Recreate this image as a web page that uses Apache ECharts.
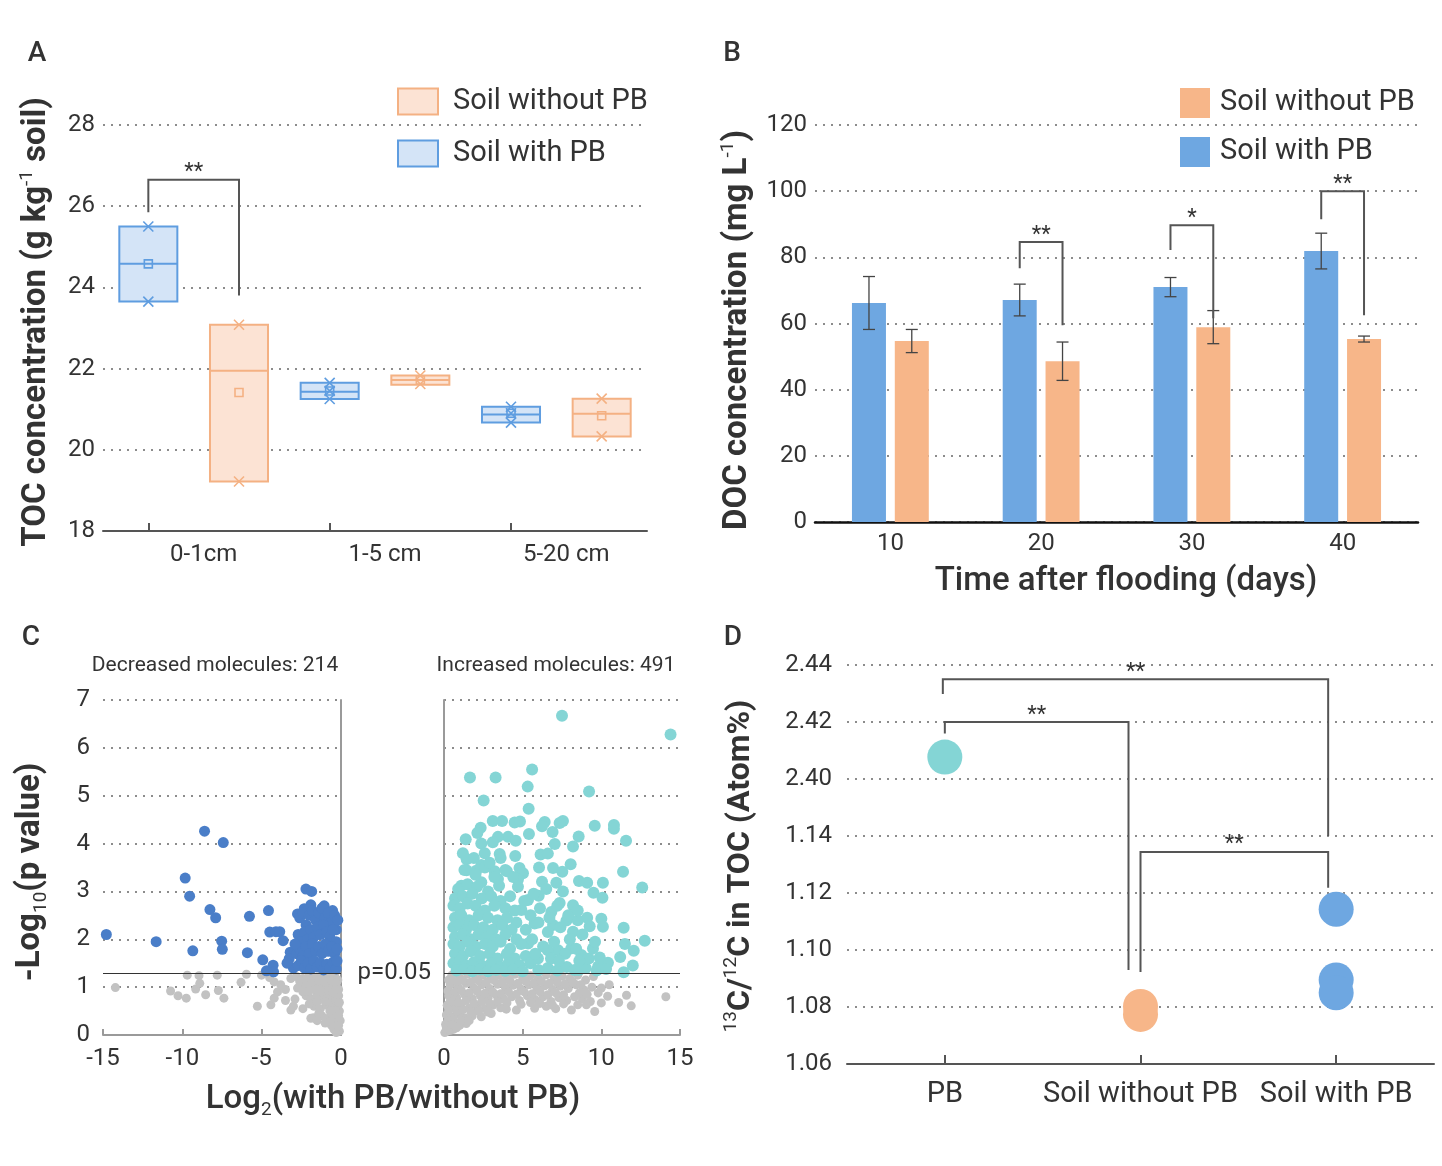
<!DOCTYPE html>
<html><head><meta charset="utf-8">
<script src="https://cdn.jsdelivr.net/npm/echarts@6/dist/echarts.min.js"></script>
<style>html,body{margin:0;padding:0;background:#fff}#c{width:1442px;height:1166px}</style>
</head><body><div id="c"></div>
<script>
// ---------- Panel A data ----------
const aGroups = ['0-1cm', '1-5 cm', '5-20 cm'];
const aYTicks = [18, 28, 2];
const aWithLow = [23.65, 21.25, 20.67];
const aWithHigh = [25.5, 21.65, 21.06];
const aWithMedian = [24.58, 21.43, 20.87];
const aWithMean = [24.58, 21.45, 20.9];
const aWithMarks = [[25.5, 23.65], [21.65, 21.45, 21.25], [21.06, 20.9, 20.67]];
const aWithoutLow = [19.22, 21.6, 20.33];
const aWithoutHigh = [23.08, 21.83, 21.26];
const aWithoutMedian = [21.95, 21.72, 20.89];
const aWithoutMean = [21.41, 21.72, 20.84];
const aWithoutMarks = [[23.08, 19.22], [21.83, 21.62], [21.26, 20.33]];
const aBrackets = [[0, 25.85, 1, 23.8, 26.65]];
const aStars = ['**'];

// ---------- Panel B data ----------
const bDays = ['10', '20', '30', '40'];
const bWith = [66.2, 67.1, 71.0, 81.9];
const bWithErr = [8.0, 4.8, 2.9, 5.4];
const bWithout = [54.7, 48.6, 58.9, 55.3];
const bWithoutErr = [3.5, 5.8, 5.0, 0.9];
const bBrackets = [[1, 76.7, 1, 59.5, 84.6], [2, 82.2, 2, 61.6, 89.7], [3, 91.5, 3, 62.5, 100]];
const bStars = ['**', '*', '**'];

// ---------- Panel C data ----------
const cPValue = 0.05;
const cBlue = [
 [-8.6,4.26],[-7.42,4.02],[-9.82,3.28],[-9.54,2.9],[-8.26,2.62],[-7.9,2.45],[-5.77,2.48],[-4.57,2.6],
 [-14.79,2.1],[-11.65,1.95],[-9.34,1.76],[-7.52,1.96],[-7.48,1.79],[-5.9,1.72],[-4.49,2.15],[-4.1,2.16],
 [-3.86,2.16],[-3.65,1.97],[-4.93,1.57],[-4.28,1.46],[-4.7,1.34],[-4.25,1.32],[-3.2,1.73],[-3.27,1.59],
 [-2.21,3.05],[-1.85,3.0],[-1.9,2.72],[-2.74,2.53],[-2.32,2.64],[-1.06,2.7],[-0.53,2.6],[-3.0,1.4],
 [-2.6,2.45],[-2.4,2.55],[-2.2,2.3],[-2.0,2.5],[-1.8,2.6],[-1.6,2.4],[-1.4,2.55],[-1.2,2.65],[-1.0,2.45],
 [-0.8,2.55],[-0.6,2.35],[-0.4,2.5],[-0.3,2.2],
 [-2.7,2.1],[-2.5,1.95],[-2.3,2.15],[-2.1,2.0],[-1.9,2.2],[-1.7,2.05],[-1.5,2.25],[-1.3,2.1],[-1.1,2.3],
 [-0.9,2.15],[-0.7,2.05],[-0.5,2.2],[-0.3,1.95],
 [-2.8,1.7],[-2.6,1.8],[-2.4,1.65],[-2.2,1.85],[-2.0,1.7],[-1.8,1.9],[-1.6,1.75],[-1.4,1.85],[-1.2,1.7],
 [-1.0,1.9],[-0.8,1.75],[-0.6,1.85],[-0.4,1.7],[-0.25,1.8],
 [-2.7,1.45],[-2.5,1.55],[-2.3,1.4],[-2.1,1.5],[-1.9,1.38],[-1.7,1.55],[-1.5,1.42],[-1.3,1.5],[-1.1,1.36],
 [-0.9,1.48],[-0.7,1.4],[-0.5,1.52],[-0.3,1.38],[-3.4,1.5],[-2.9,1.9],[-0.2,2.4],[-0.25,1.55]
];
const cTeal = [
 [7.5,6.67],[14.4,6.28],[1.65,5.38],[3.28,5.38],[5.6,5.55],[5.32,5.19],[9.22,5.09],[2.52,4.9],[5.38,4.73],
 [3.1,4.47],[3.69,4.47],[4.49,4.44],[4.83,4.46],[6.4,4.45],[7.56,4.47],[7.35,4.43],[9.58,4.37],[10.8,4.39],
 [10.8,4.31],[6.23,4.36],[2.33,4.33],[2.12,4.22],[1.38,4.09],[6.9,4.24],[5.4,4.2],[8.56,4.15],[11.57,4.06],
 [7.04,3.99],[8.2,3.94],[4.07,4.14],[4.56,4.06],[3.43,4.14],[3.1,4.03],[2.37,4.0],[2.59,3.8],[3.54,3.78],
 [4.53,3.74],[6.14,3.77],[6.6,3.79],[1.44,3.67],[2.37,3.55],[1.44,3.44],[2.05,3.43],[3.22,3.42],[4.0,3.42],
 [4.8,3.49],[5.02,3.38],[6.04,3.5],[6.93,3.49],[7.52,3.41],[8.05,3.57],[11.38,3.41],[3.43,3.26],[4.7,3.25],
 [6.23,3.2],[7.14,3.18],[8.58,3.22],[9.1,3.18],[10.1,3.18],[12.6,3.08],[1.1,3.12],[2.37,3.19],
 [9.5,2.97],[10.07,2.87],[8.2,2.71],[7.35,2.76],[6.82,2.57],[6.02,2.91],[7.56,3.0],[10.0,2.43],[10.1,2.26],
 [9.26,2.27],[8.5,2.4],[7.78,2.39],[6.93,2.3],[8.2,2.16],[11.42,2.24],[12.76,1.97],[11.5,1.9],[12.06,1.76],
 [12.0,1.45],[11.42,1.31],[10.42,1.51],[9.47,1.81],[8.73,1.67],[8.09,1.81],[7.25,1.77],[6.6,1.77],[5.97,1.6],
 [8.56,1.36],[9.8,1.43],[5.34,1.91],[5.76,2.33],[5.34,2.82],[4.92,2.61],[11.2,1.63],
 [0.9,3.05],[1.5,3.15],[2.1,3.1],[2.8,3.0],[3.5,3.12],
 [0.7,2.85],[1.2,2.9],[1.8,2.95],[2.4,2.85],[3.0,2.9],[3.6,2.8],[4.2,2.9],
 [0.6,2.7],[1.0,2.65],[1.5,2.75],[2.0,2.7],[2.6,2.6],[3.2,2.7],[3.9,2.65],[4.5,2.6],
 [0.7,2.45],[1.1,2.5],[1.6,2.4],[2.2,2.5],[2.8,2.45],[3.4,2.4],[4.0,2.45],[4.6,2.35],
 [0.6,2.25],[1.0,2.3],[1.4,2.2],[1.9,2.3],[2.5,2.25],[3.1,2.2],[3.7,2.3],[4.3,2.2],
 [0.7,2.05],[1.2,2.1],[1.7,2.0],[2.2,2.1],[2.7,2.05],[3.3,2.0],[3.9,2.1],[4.6,2.0],
 [0.6,1.9],[1.0,1.85],[1.5,1.95],[2.0,1.85],[2.6,1.9],[3.1,1.85],[3.6,1.95],[4.2,1.8],[4.9,1.9],
 [0.7,1.7],[1.2,1.65],[1.7,1.75],[2.3,1.65],[2.9,1.7],[3.4,1.6],[4.0,1.7],[4.5,1.6],[5.2,1.65],
 [0.6,1.5],[1.0,1.55],[1.4,1.45],[1.9,1.52],[2.4,1.45],[3.0,1.5],[3.6,1.42],[4.1,1.5],[4.8,1.45],[5.5,1.5],
 [0.8,1.35],[1.3,1.38],[1.8,1.33],[2.3,1.37],[2.8,1.33],[3.3,1.36],[3.9,1.34],[4.4,1.37],[5.0,1.33],
 [6.0,1.36],[6.6,1.4],[7.2,1.35],[7.8,1.42],[8.3,1.36],[9.0,1.4],[9.7,1.35],[10.3,1.38],
 [5.2,2.2],[5.6,2.0],[6.0,2.35],[6.3,1.85],[6.6,2.15],[7.0,1.95],[7.4,2.25],[7.7,1.7],[8.0,2.0],[8.4,1.8],
 [8.8,2.1],[9.2,1.6],[9.6,1.95],[6.8,1.6],[5.8,1.7],[7.3,1.55],[8.6,1.55],[9.9,1.62],[5.5,2.5],[6.1,2.65],
 [6.7,2.45],[7.2,2.7],[7.9,2.5],[8.5,2.6],[9.1,2.45],[5.1,2.8],[5.7,2.95],[6.5,3.05],[4.7,3.1],[4.4,3.3],
 [3.9,3.45],[1.3,3.45],[2.0,3.35],[2.6,3.5],[3.2,3.3],[1.9,3.7],[2.9,3.6],[1.2,3.8],[3.6,3.7]
];
const cGrayLeft = [
 [-14.22,0.99],[-10.74,0.92],[-10.27,0.82],[-9.75,0.77],[-9.69,1.25],[-9.16,0.96],[-8.95,1.24],[-8.9,1.08],
 [-8.53,0.84],[-7.8,1.25],[-7.73,0.93],[-7.38,0.77],[-5.96,1.27],[-5.01,1.25],[-5.27,0.6],[-4.42,0.63],
 [-4.21,1.11],[-4.21,0.77],[-4.0,0.9],[-3.5,0.95],[-3.16,1.18],[-3.16,0.52],[-2.9,0.75],[-2.74,0.98],
 [-2.8,1.22],[-2.4,1.18],[-2.0,1.25],[-1.6,1.2],[-1.2,1.26],[-0.8,1.2],[-0.4,1.24],[-0.2,1.15],
 [-2.6,1.0],[-2.2,1.05],[-1.8,0.98],[-1.4,1.04],[-1.0,0.97],[-0.6,1.05],[-0.3,0.95],
 [-2.4,0.55],[-2.2,0.82],[-1.9,0.76],[-1.5,0.85],[-1.1,0.78],[-0.7,0.84],[-0.4,0.75],[-0.15,0.82],
 [-1.9,0.35],[-1.7,0.6],[-1.3,0.55],[-0.9,0.62],[-0.5,0.56],[-0.2,0.6],
 [-1.2,0.4],[-0.8,0.35],[-0.5,0.42],[-0.25,0.3],[-1.73,0.36],
 [-0.6,0.2],[-0.3,0.15],[-0.1,0.08],[-0.45,0.12],[-0.05,0.3],[-0.1,0.5],[-1.0,0.25],[-1.5,0.3],
 [-2.6,1.12],[-2.2,1.15],[-1.8,1.12],[-1.4,1.14],[-1.0,1.1],[-0.6,1.13],[-0.3,1.08],
 [-2.4,0.9],[-2.0,0.92],[-1.6,0.95],[-1.2,0.9],[-0.8,0.93],[-0.5,0.88],[-0.15,0.95],
 [-2.0,0.65],[-1.5,0.7],[-1.0,0.7],[-0.6,0.68],[-0.3,0.72],[-0.1,0.68],
 [-1.4,0.45],[-0.7,0.5],[-0.35,0.5],[-0.15,0.4],[-0.7,0.28],[-0.15,0.2],[-0.3,0.05],
 [-4.5,1.2],[-3.8,1.05],[-3.5,0.72],[-3.0,0.6],[-6.3,1.1]
];
const cGrayRight = [
 [0.5,1.25],[1.0,1.2],[1.5,1.27],[2.0,1.22],[2.5,1.26],[3.0,1.2],[3.5,1.25],[4.0,1.22],[4.5,1.27],[5.0,1.2],
 [5.5,1.24],[6.0,1.18],[6.5,1.26],[7.0,1.2],[7.5,1.23],[8.0,1.18],[8.5,1.25],[9.0,1.15],[9.5,1.22],
 [0.4,1.05],[0.9,1.0],[1.4,1.08],[1.9,0.98],[2.4,1.05],[2.9,0.97],[3.4,1.06],[3.9,0.99],[4.4,1.04],[4.9,0.96],
 [5.4,1.05],[5.9,0.98],[6.4,1.03],[6.9,0.95],[7.4,1.02],[7.9,0.97],[8.4,1.05],[8.9,0.94],[9.4,1.0],[10.0,0.98],[10.5,1.05],
 [0.3,0.82],[0.8,0.78],[1.3,0.85],[1.8,0.76],[2.3,0.83],[2.8,0.77],[3.3,0.84],[3.8,0.75],[4.3,0.8],[4.8,0.72],
 [5.3,0.82],[5.8,0.74],[6.3,0.8],[6.8,0.7],[7.3,0.78],[7.8,0.72],[8.3,0.8],[8.8,0.75],[9.3,0.7],[10.4,0.81],
 [11.6,0.83],[14.1,0.8],
 [0.2,0.62],[0.6,0.58],[1.1,0.64],[1.6,0.56],[2.1,0.6],[2.6,0.55],[3.1,0.62],[3.6,0.57],[4.6,0.52],[5.76,0.56],
 [6.5,0.6],[7.1,0.55],[8.1,0.52],[9.58,0.49],[10.0,0.67],[11.1,0.68],[11.9,0.61],[3.96,0.54],[9.05,0.63],
 [0.15,0.42],[0.5,0.38],[0.9,0.44],[1.3,0.36],[1.8,0.4],[2.37,0.38],[3.0,0.45],
 [0.1,0.22],[0.35,0.18],[0.7,0.25],[1.0,0.2],[1.42,0.24],
 [0.05,0.05],[0.2,0.08],[0.4,0.1],[0.6,0.12],
 [0.3,1.15],[0.8,1.12],[1.2,1.14],[1.7,1.1],[2.2,1.13],[2.7,1.1],[3.2,1.14],[3.7,1.1],[4.2,1.13],[4.7,1.08],
 [5.2,1.12],[5.7,1.08],[6.2,1.12],[6.7,1.08],[7.2,1.1],[7.7,1.07],[8.2,1.1],[8.7,1.05],
 [0.25,0.92],[0.7,0.9],[1.1,0.93],[1.6,0.88],[2.1,0.92],[2.6,0.87],[3.1,0.9],[3.6,0.86],[4.1,0.9],[4.6,0.85],
 [5.1,0.9],[5.6,0.86],[6.1,0.9],[6.6,0.84],[7.1,0.88],[7.6,0.84],[8.6,0.88],[9.1,0.85],[9.8,0.88],
 [0.4,0.7],[0.9,0.68],[1.4,0.72],[1.9,0.66],[2.4,0.7],[2.9,0.66],[3.4,0.7],[4.0,0.67],[4.9,0.64],[5.5,0.68],
 [6.1,0.66],[6.9,0.62],[7.6,0.65],[8.5,0.63],
 [0.3,0.52],[0.8,0.5],[1.2,0.53],[1.7,0.48],[2.2,0.5],[2.8,0.48],[0.6,0.32],[1.1,0.3],[1.6,0.3],[0.25,0.3],
 [0.15,0.15],[0.5,0.22],[0.8,0.15]
];

// ---------- Panel D data ----------
const dGroups = ['PB', 'Soil without PB', 'Soil with PB'];
const dTicks = [1.06, 1.08, 1.10, 1.12, 1.14, 2.40, 2.42, 2.44];
const dPB = [2.4077];
const dWithout = [1.0802, 1.0774];
const dWith = [1.1143, 1.0895, 1.0850];
const dBrackets = [[0, 2.4298, 2, 1.140, 2.435], [0, 2.416, 1, 1.093, 2.42], [1, 1.0923, 2, 1.1218, 1.1344]];
const dStars = ['**', '**', '**'];

// ---------- styles / layout ----------
const FONT = 'Roboto';
const TXT = '#333333';
const DOT = {type: [2, 6], width: 2, color: '#8c8c8c'};
const A_BLUE = '#5f9de0', A_BLUE_FILL = '#d4e4f7', A_OR = '#f4b183', A_OR_FILL = '#fce3d4';
const B_BLUE = '#6ea7e1', B_OR = '#f7b689';
const C_BLUE = '#4a7ec8', C_TEAL = '#84d5d5', C_GRAY = '#c2c2c2';
const B_DX = 21.4;
const bBracketDx = [[-B_DX, B_DX], [-B_DX, B_DX], [-B_DX, B_DX]];
const dBracketDx = [[-2, -8], [0, -12], [0, -8]];

function brk(v) {
  for (let i = 0; i < dTicks.length - 1; i++) {
    if (v <= dTicks[i + 1] || i === dTicks.length - 2) return i + (v - dTicks[i]) / (dTicks[i + 1] - dTicks[i]);
  }
}

function boxRender(stroke, fill, marks) {
  return function (params, api) {
    const s = api.value(0);
    const lo = api.coord([s, api.value(1)]);
    const hi = api.coord([s, api.value(2)]);
    const md = api.coord([s, api.value(3)]);
    const mn = api.coord([s, api.value(4)]);
    const w = api.size([1, 0])[0] * 0.64;
    const cx = lo[0];
    const kids = [
      {type: 'rect', shape: {x: cx - w / 2, y: hi[1], width: w, height: lo[1] - hi[1]}, style: {fill: fill, stroke: stroke, lineWidth: 2}},
      {type: 'line', shape: {x1: cx - w / 2, y1: md[1], x2: cx + w / 2, y2: md[1]}, style: {stroke: stroke, lineWidth: 2}},
      {type: 'rect', shape: {x: cx - 4, y: mn[1] - 4, width: 8, height: 8}, style: {fill: 'none', stroke: stroke, lineWidth: 1.6}}
    ];
    marks[params.dataIndex].forEach(function (v) {
      const p = api.coord([s, v]);
      kids.push({type: 'line', shape: {x1: cx - 5, y1: p[1] - 5, x2: cx + 5, y2: p[1] + 5}, style: {stroke: stroke, lineWidth: 1.6}});
      kids.push({type: 'line', shape: {x1: cx - 5, y1: p[1] + 5, x2: cx + 5, y2: p[1] - 5}, style: {stroke: stroke, lineWidth: 1.6}});
    });
    return {type: 'group', children: kids};
  };
}

function errRender(dx) {
  return function (params, api) {
    const c = api.value(0), m = api.value(1), e = api.value(2);
    const t = api.coord([c, m + e]), b = api.coord([c, m - e]);
    const x = t[0] + dx;
    const st = {stroke: '#444', lineWidth: 1.3};
    return {type: 'group', children: [
      {type: 'line', shape: {x1: x, y1: t[1], x2: x, y2: b[1]}, style: st},
      {type: 'line', shape: {x1: x - 6, y1: t[1], x2: x + 6, y2: t[1]}, style: st},
      {type: 'line', shape: {x1: x - 6, y1: b[1], x2: x + 6, y2: b[1]}, style: st}
    ]};
  };
}

function bracketRender(texts, dxs) {
  return function (params, api) {
    const i = params.dataIndex;
    const d = dxs ? dxs[i] : [0, 0];
    const a = api.coord([api.value(0), api.value(1)]);
    const t = api.coord([api.value(0), api.value(4)]);
    const b = api.coord([api.value(2), api.value(3)]);
    const x1 = a[0] + d[0], x2 = b[0] + d[1], yt = t[1];
    return {type: 'group', children: [
      {type: 'polyline', shape: {points: [[x1, a[1]], [x1, yt], [x2, yt], [x2, b[1]]]}, style: {stroke: '#555', lineWidth: 2, fill: null}},
      {type: 'text', x: (x1 + x2) / 2, y: yt - 7, style: {text: texts[i], fill: TXT, fontSize: 22, fontFamily: FONT, align: 'center', verticalAlign: 'middle'}}
    ]};
  };
}

const aSlots = [];
aGroups.forEach(function (g) { aSlots.push(g + ' with'); aSlots.push(g + ' without'); });

const labelStyle = {fontSize: 24, color: TXT, fontFamily: FONT};
const noLine = {show: false};

const supRich = {sup: {fontSize: 19, fontWeight: 'normal', fontFamily: FONT, fill: TXT, verticalAlign: 'top', lineHeight: 20}};
const subRich = {sub: {fontSize: 19, fontWeight: 'normal', fontFamily: FONT, fill: TXT, verticalAlign: 'bottom', lineHeight: 20}};

function gText(x, y, text, size, weight, rot, rich) {
  const el = {type: 'text', x: x, y: y, style: {text: text, fontSize: size, fontWeight: weight, fontFamily: FONT, fill: TXT, align: 'center', verticalAlign: 'middle', lineHeight: size + 6}};
  if (rot) el.rotation = rot;
  if (rich) el.style.rich = rich;
  return el;
}

const option = {
  animation: false,
  backgroundColor: '#ffffff',
  textStyle: {fontFamily: FONT},
  grid: [
    {left: 103, right: 795, top: 125, bottom: 635, outerBoundsMode: 'none'},
    {left: 815, right: 24, top: 125, bottom: 644, outerBoundsMode: 'none'},
    {left: 103, right: 1101, top: 700, bottom: 131, outerBoundsMode: 'none'},
    {left: 444, right: 762, top: 700, bottom: 131, outerBoundsMode: 'none'},
    {left: 847, right: 8, top: 665, bottom: 102, outerBoundsMode: 'none'}
  ],
  legend: [
    {left: 392, top: 82, orient: 'vertical', itemWidth: 40, itemHeight: 26, itemGap: 23, icon: 'rect', selectedMode: false,
     textStyle: {fontSize: 29, color: TXT, fontFamily: FONT, padding: [0, 0, 0, 10], lineHeight: 26},
     data: [{name: 'Soil without PB', itemStyle: {color: A_OR_FILL, borderColor: A_OR, borderWidth: 2}},
            {name: 'Soil with PB', itemStyle: {color: A_BLUE_FILL, borderColor: A_BLUE, borderWidth: 2}}]},
    {left: 1175, top: 83, orient: 'vertical', itemWidth: 30, itemHeight: 30, itemGap: 19, icon: 'rect', selectedMode: false,
     textStyle: {fontSize: 29, color: TXT, fontFamily: FONT, padding: [0, 0, 0, 5], lineHeight: 30},
     data: [{name: 'Soil without PB', itemStyle: {color: B_OR, borderWidth: 0}},
            {name: 'Soil with PB', itemStyle: {color: B_BLUE, borderWidth: 0}}]}
  ],
  xAxis: [
    {gridIndex: 0, type: 'category', data: aSlots, boundaryGap: true,
     axisLine: {onZero: false, lineStyle: {color: '#555', width: 2}},
     axisTick: {show: true, inside: true, alignWithLabel: true, length: 8, lineStyle: {color: '#555', width: 2}},
     axisLabel: {show: false}, splitLine: noLine},
    {gridIndex: 0, type: 'category', data: aGroups, position: 'bottom',
     axisLine: noLine, axisTick: noLine, splitLine: noLine,
     axisLabel: Object.assign({margin: 12, padding: [0, 0, 0, 20]}, labelStyle)},
    {gridIndex: 1, type: 'category', data: bDays,
     axisLine: {onZero: false, lineStyle: {color: '#111', width: 2.5}}, axisTick: noLine,
     axisLabel: Object.assign({margin: 10}, labelStyle), splitLine: noLine},
    {gridIndex: 2, type: 'value', min: -15, max: 0, interval: 5,
     axisLine: {show: true, onZero: false, lineStyle: {color: '#9a9a9a', width: 2}},
     axisTick: {show: true, inside: true, length: 6, lineStyle: {color: '#9a9a9a', width: 2}},
     axisLabel: Object.assign({margin: 12}, labelStyle), splitLine: noLine},
    {gridIndex: 3, type: 'value', min: 0, max: 15, interval: 5,
     axisLine: {show: true, onZero: false, lineStyle: {color: '#9a9a9a', width: 2}},
     axisTick: {show: true, inside: true, length: 6, lineStyle: {color: '#9a9a9a', width: 2}},
     axisLabel: Object.assign({margin: 12}, labelStyle), splitLine: noLine},
    {gridIndex: 4, type: 'category', data: dGroups, boundaryGap: true,
     axisLine: {onZero: false, lineStyle: {color: '#555', width: 2}},
     axisTick: {show: true, inside: true, alignWithLabel: true, length: 9, lineStyle: {color: '#555', width: 2}},
     axisLabel: {interval: 0, margin: 16, fontSize: 29, color: TXT, fontFamily: FONT}, splitLine: noLine}
  ],
  yAxis: [
    {gridIndex: 0, type: 'value', min: aYTicks[0], max: aYTicks[1], interval: aYTicks[2],
     axisLine: {show: false, onZero: false}, axisTick: noLine,
     axisLabel: Object.assign({margin: 8}, labelStyle), splitLine: {show: true, lineStyle: DOT}},
    {gridIndex: 1, type: 'value', min: 0, max: 120, interval: 20,
     axisLine: {show: false, onZero: false}, axisTick: noLine,
     axisLabel: Object.assign({margin: 8}, labelStyle), splitLine: {show: true, lineStyle: DOT}},
    {gridIndex: 2, type: 'value', min: 0, max: 7, interval: 1, position: 'left',
     axisLine: {show: false, onZero: false}, axisTick: noLine,
     axisLabel: Object.assign({margin: 13}, labelStyle), splitLine: {show: true, lineStyle: DOT}},
    {gridIndex: 3, type: 'value', min: 0, max: 7, interval: 1, position: 'left',
     axisLine: {show: true, onZero: false, lineStyle: {color: '#9a9a9a', width: 2}}, axisTick: noLine,
     axisLabel: {show: false}, splitLine: {show: true, lineStyle: DOT}},
    {gridIndex: 4, type: 'value', min: 0, max: dTicks.length - 1, interval: 1,
     axisLine: {show: false, onZero: false}, axisTick: noLine,
     axisLabel: Object.assign({margin: 15, formatter: function (v) { return dTicks[v] !== undefined ? dTicks[v].toFixed(2) : ''; }}, labelStyle),
     splitLine: {show: true, lineStyle: DOT}},
    {gridIndex: 2, type: 'value', min: 0, max: 7, interval: 1, position: 'right',
     axisLine: {show: true, onZero: false, lineStyle: {color: '#9a9a9a', width: 2}}, axisTick: noLine,
     axisLabel: {show: false}, splitLine: noLine}
  ],
  graphic: [
    gText(37, 54, 'A', 28, 500),
    gText(732, 54, 'B', 28, 500),
    gText(31, 638, 'C', 28, 500),
    gText(733, 638, 'D', 28, 500),
    gText(37, 322, 'TOC concentration (g kg{sup|-1} soil)', 33, 'bold', Math.PI / 2, supRich),
    gText(738, 330, 'DOC concentration (mg L{sup|-1})', 33, 'bold', Math.PI / 2, supRich),
    gText(1126, 582, 'Time after flooding (days)', 33, 500),
    gText(31, 872, '-Log{sub|10}(p value)', 33, 'bold', Math.PI / 2, subRich),
    gText(393, 1100, 'Log{sub|2}(with PB/without PB)', 33, 500, 0, subRich),
    gText(215, 666, 'Decreased molecules: 214', 21, 'normal'),
    gText(556, 666, 'Increased molecules: 491', 21, 'normal'),
    gText(741, 866, '{sup|13}C/{sup|12}C in TOC (Atom%)', 32, 'bold', Math.PI / 2, supRich)
  ],
  series: [
    // Panel A
    {name: 'Soil with PB', type: 'custom', xAxisIndex: 0, yAxisIndex: 0, silent: true,
     itemStyle: {color: A_BLUE_FILL, borderColor: A_BLUE},
     encode: {x: 0, y: [1, 2, 3, 4]},
     renderItem: boxRender(A_BLUE, A_BLUE_FILL, aWithMarks),
     data: aWithLow.map(function (v, i) { return [2 * i, v, aWithHigh[i], aWithMedian[i], aWithMean[i]]; })},
    {name: 'Soil without PB', type: 'custom', xAxisIndex: 0, yAxisIndex: 0, silent: true,
     itemStyle: {color: A_OR_FILL, borderColor: A_OR},
     encode: {x: 0, y: [1, 2, 3, 4]},
     renderItem: boxRender(A_OR, A_OR_FILL, aWithoutMarks),
     data: aWithoutLow.map(function (v, i) { return [2 * i + 1, v, aWithoutHigh[i], aWithoutMedian[i], aWithoutMean[i]]; })},
    {name: 'a-brackets', type: 'custom', xAxisIndex: 0, yAxisIndex: 0, silent: true, z: 5,
     encode: {x: [0, 2], y: [1, 3, 4]},
     renderItem: bracketRender(aStars, null), data: aBrackets},
    // Panel B
    {name: 'Soil with PB', type: 'bar', xAxisIndex: 2, yAxisIndex: 1, barWidth: 34, barGap: '26%',
     itemStyle: {color: B_BLUE}, data: bWith},
    {name: 'Soil without PB', type: 'bar', xAxisIndex: 2, yAxisIndex: 1, barWidth: 34, barGap: '26%',
     itemStyle: {color: B_OR}, data: bWithout},
    {name: 'b-err-with', type: 'custom', xAxisIndex: 2, yAxisIndex: 1, silent: true, z: 4,
     encode: {x: 0, y: 1}, renderItem: errRender(-B_DX),
     data: bWith.map(function (v, i) { return [i, v, bWithErr[i]]; })},
    {name: 'b-err-without', type: 'custom', xAxisIndex: 2, yAxisIndex: 1, silent: true, z: 4,
     encode: {x: 0, y: 1}, renderItem: errRender(B_DX),
     data: bWithout.map(function (v, i) { return [i, v, bWithoutErr[i]]; })},
    {name: 'b-brackets', type: 'custom', xAxisIndex: 2, yAxisIndex: 1, silent: true, z: 5,
     encode: {x: [0, 2], y: [1, 3, 4]},
     renderItem: bracketRender(bStars, bBracketDx), data: bBrackets},
    // Panel C
    {name: 'c-gray-left', type: 'scatter', xAxisIndex: 3, yAxisIndex: 2, symbolSize: 9, silent: true,
     itemStyle: {color: C_GRAY, opacity: 1}, data: cGrayLeft},
    {name: 'c-blue', type: 'scatter', xAxisIndex: 3, yAxisIndex: 2, symbolSize: 11, silent: true,
     itemStyle: {color: C_BLUE, opacity: 1}, data: cBlue,
     markLine: {silent: true, symbol: ['none', 'none'], lineStyle: {color: '#333', width: 1.2, type: 'solid'},
                label: {show: false}, data: [{yAxis: -Math.log10(cPValue)}]}},
    {name: 'c-gray-right', type: 'scatter', xAxisIndex: 4, yAxisIndex: 3, symbolSize: 9, silent: true,
     itemStyle: {color: C_GRAY, opacity: 1}, data: cGrayRight},
    {name: 'c-teal', type: 'scatter', xAxisIndex: 4, yAxisIndex: 3, symbolSize: 12, silent: true,
     itemStyle: {color: C_TEAL, opacity: 1}, data: cTeal,
     markLine: {silent: true, symbol: ['none', 'none'], lineStyle: {color: '#333', width: 1.2, type: 'solid'},
                label: {show: true, position: 'start', distance: 13, formatter: 'p=' + cPValue.toFixed(2), fontSize: 24, color: TXT, fontFamily: FONT},
                data: [{yAxis: -Math.log10(cPValue)}]}},
    // Panel D
    {name: 'd-pb', type: 'scatter', xAxisIndex: 5, yAxisIndex: 4, symbol: 'circle', symbolSize: 35, silent: true,
     itemStyle: {color: C_TEAL, opacity: 1}, data: dPB.map(function (v) { return [0, brk(v)]; })},
    {name: 'd-without', type: 'scatter', xAxisIndex: 5, yAxisIndex: 4, symbol: 'circle', symbolSize: 35, silent: true,
     itemStyle: {color: B_OR, opacity: 1}, data: dWithout.map(function (v) { return [1, brk(v)]; })},
    {name: 'd-with', type: 'scatter', xAxisIndex: 5, yAxisIndex: 4, symbol: 'circle', symbolSize: 35, silent: true,
     itemStyle: {color: B_BLUE, opacity: 1}, data: dWith.map(function (v) { return [2, brk(v)]; })},
    {name: 'd-brackets', type: 'custom', xAxisIndex: 5, yAxisIndex: 4, silent: true, z: 5,
     encode: {x: [0, 2], y: [1, 3, 4]},
     renderItem: bracketRender(dStars, dBracketDx),
     data: dBrackets.map(function (b) { return [b[0], brk(b[1]), b[2], brk(b[3]), brk(b[4])]; })}
  ]
};

const chart = echarts.init(document.getElementById('c'), null, {renderer: 'canvas', width: 1442, height: 1166});
chart.setOption(option);
</script></body></html>
